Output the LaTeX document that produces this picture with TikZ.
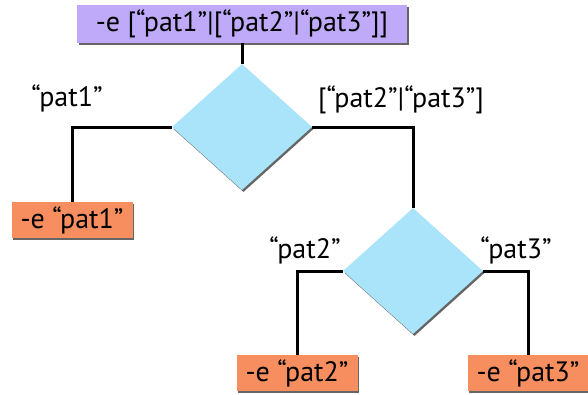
\documentclass[tikz,border=0pt]{standalone}
\usepackage{fontspec}
\setmainfont{PT Sans}
\usetikzlibrary{shapes.geometric}
\usetikzlibrary{shadows}

\definecolor{boxlilac}{RGB}{190,170,248}
\definecolor{boxorange}{RGB}{246,142,96}
\definecolor{choiceblue}{RGB}{170,228,250}

\tikzset{
  patshadow/.style={drop shadow={shadow xshift=1.5pt,shadow yshift=-2pt,fill=black,opacity=0.6}},
  exprbox/.style={patshadow,fill=boxlilac,minimum width=330pt,minimum height=38pt,inner sep=0pt,font=\fontsize{28}{30}\selectfont},
  leafbox/.style={patshadow,fill=boxorange,minimum width=121pt,minimum height=36pt,inner sep=0pt,font=\fontsize{28}{30}\selectfont},
  choice/.style={patshadow,diamond,fill=choiceblue,minimum width=140pt,minimum height=126pt,inner sep=0pt},
  branchlabel/.style={font=\fontsize{28}{30}\selectfont},
  wire/.style={line width=3pt}
}

\begin{document}
\begin{tikzpicture}[x=1pt,y=-1pt]
                \useasboundingbox (0,0) rectangle (588,394);

                % wires first, boxes on top
                \coordinate (topc) at (242,24);
                \coordinate (d1c) at (242,127);
                \coordinate (d2c) at (413,271);

                \node[choice] (d1) at (d1c) {};
                \node[choice] (d2) at (d2c) {};

                \node[exprbox] (expr) at (topc) {-e [“pat1”|[“pat2”|“pat3”]]};

                \node[leafbox] (p1) at (72,220) {-e “pat1”};
                \node[leafbox] (p2) at (297,373) {-e “pat2”};
                \node[leafbox] (p3) at (528,373) {-e “pat3”};

                \draw[wire] (expr.south) -- (d1.north);
                \draw[wire] (d1.west) -| (p1.north);
                \draw[wire] (d1.east) -| (d2.north);
                \draw[wire] (d2.west) -| (p2.north);
                \draw[wire] (d2.east) -| (p3.north);

                \node[branchlabel] (l1) at (67,98) {“pat1”};
                \node[branchlabel] (l23) at (401,100) {[“pat2”|“pat3”]};
                \node[branchlabel] (l2) at (305,250) {“pat2”};
                \node[branchlabel] (l3) at (516,250) {“pat3”};
            \end{tikzpicture}
\end{document}
